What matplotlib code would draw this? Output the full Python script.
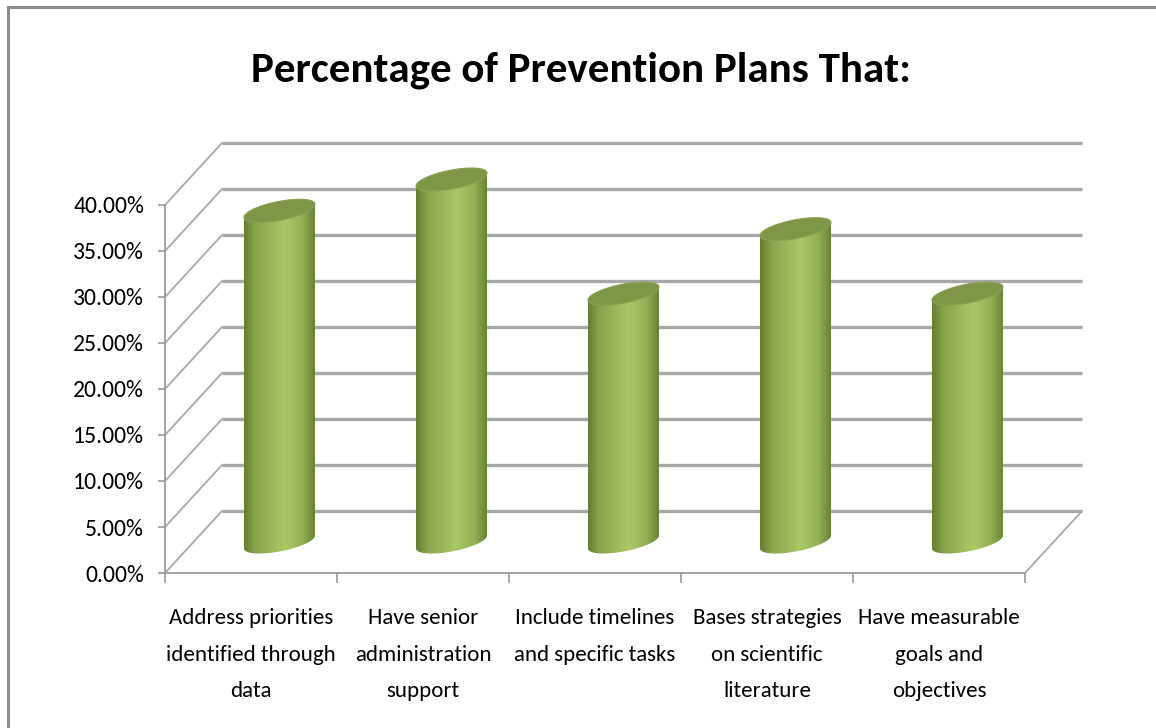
import numpy as np
import matplotlib
matplotlib.use("Agg")
import matplotlib.pyplot as plt
from matplotlib import font_manager
from matplotlib.colors import LinearSegmentedColormap
from matplotlib.patches import Polygon

# data
categories = [
    "Address priorities\nidentified through\ndata",
    "Have senior\nadministration\nsupport",
    "Include timelines\nand specific tasks",
    "Bases strategies\non scientific\nliterature",
    "Have measurable\ngoals and\nobjectives",
]
values = [36.0, 39.4, 27.0, 34.0, 27.0]
y_ticks = [0, 5, 10, 15, 20, 25, 30, 35, 40]
title = "Percentage of Prevention Plans That:"

# pick a narrow font close to Calibri
names = {f.name for f in font_manager.fontManager.ttflist}
font = "Lato"
for cand in ["Carlito", "Liberation Sans Narrow", "Noto Sans Condensed",
             "Open Sans Condensed", "Roboto Condensed"]:
    if cand in names:
        font = cand
        break
plt.rcParams["font.family"] = [font, "DejaVu Sans"]

W, H = 1156, 728
fig = plt.figure(figsize=(W / 100, H / 100), dpi=100)

# front face of the plot box in pixels
x0, x1, y_top, y_bot = 165, 1025, 205, 573
ax = fig.add_axes([x0 / W, 1 - y_bot / H, (x1 - x0) / W, (y_bot - y_top) / H])
n = len(categories)
ax.set_xlim(0, n)
ax.set_ylim(0, 40)
px_x = (x1 - x0) / n          # pixels per category
px_y = (y_bot - y_top) / 40   # pixels per percent

# depth offset of back wall (data units)
ox, oy = 57 / px_x, 62 / px_y
grid_c = "#a8a8a8"

for v in y_ticks:
    # back wall line
    ax.plot([ox, n + ox], [v + oy, v + oy], color=grid_c, lw=2.4, clip_on=False, zorder=1,
            solid_capstyle="butt")
    # side wall diagonal
    ax.plot([0, ox], [v, v + oy], color=grid_c, lw=1.3, clip_on=False, zorder=1)
# floor right edge
ax.plot([n, n + ox], [0, oy], color=grid_c, lw=1.3, clip_on=False, zorder=1)

# cylinder styling
side_cmap = LinearSegmentedColormap.from_list("cyl", [
    (0.0, "#657f32"), (0.18, "#8aa84f"), (0.58, "#a8c865"),
    (0.82, "#92b155"), (1.0, "#678235")])
top_color = "#7d9648"
a = 35.5 / px_x
b = 9.5 / px_y
s = 6.5 / px_y
grad = np.linspace(0, 1, 256).reshape(1, -1)


def ellipse(cx, cy, t):
    return np.column_stack([cx + a * np.cos(t), cy + s * np.cos(t) + b * np.sin(t)])


for i, v in enumerate(values):
    cx = i + 0.5 + ox / 2
    base = oy / 2
    top = v + oy / 2
    lower = ellipse(cx, base, np.linspace(np.pi, 2 * np.pi, 80))
    upper = ellipse(cx, top, np.linspace(0, np.pi, 80))
    side = Polygon(np.vstack([lower, upper]), closed=True, facecolor="none",
                   edgecolor="none", clip_on=False)
    ax.add_patch(side)
    im = ax.imshow(grad, extent=[cx - a, cx + a, base - b - s, top + b + s],
                   aspect="auto", cmap=side_cmap, zorder=3, interpolation="bilinear")
    im.set_clip_box(fig.bbox)
    im.set_clip_path(side)
    cap = Polygon(ellipse(cx, top, np.linspace(0, 2 * np.pi, 120)), closed=True,
                  facecolor=top_color, edgecolor="#88a252", lw=0.8, zorder=4, clip_on=False)
    ax.add_patch(cap)

ax.set_xlim(0, n)
ax.set_ylim(0, 40)

# axes styling
for sp in ["top", "right"]:
    ax.spines[sp].set_visible(False)
for sp in ["left", "bottom"]:
    ax.spines[sp].set_color("#9a9a9a")
    ax.spines[sp].set_linewidth(1.3)
ax.patch.set_alpha(0)

ax.set_yticks(y_ticks)
ax.set_yticklabels([f"{t:.2f}%" for t in y_ticks])
ax.tick_params(axis="y", length=5, width=1.2, color="#9a9a9a", pad=10,
               labelsize=17, labelcolor="black")

ax.set_xticks(np.arange(n + 1))
ax.set_xticklabels([])
ax.set_xticks(np.arange(n) + 0.5, minor=True)
ax.set_xticklabels(categories, minor=True, linespacing=2.05)
ax.tick_params(axis="x", which="major", length=7, width=1.2, color="#9a9a9a")
ax.tick_params(axis="x", which="minor", length=0, pad=25, labelsize=16.5)

fig.text(581 / W, 1 - 70 / H, title, ha="center", va="center",
         fontsize=31, fontweight="bold")

# chart frame
fig.add_artist(plt.Line2D([8 / W, 1], [1 - 7 / H, 1 - 7 / H], color="#8c8c8c", lw=2.2,
                          transform=fig.transFigure))
fig.add_artist(plt.Line2D([8 / W, 8 / W], [0, 1 - 7 / H], color="#8c8c8c", lw=2.2,
                          transform=fig.transFigure))

fig.savefig("out.png", dpi=100)
